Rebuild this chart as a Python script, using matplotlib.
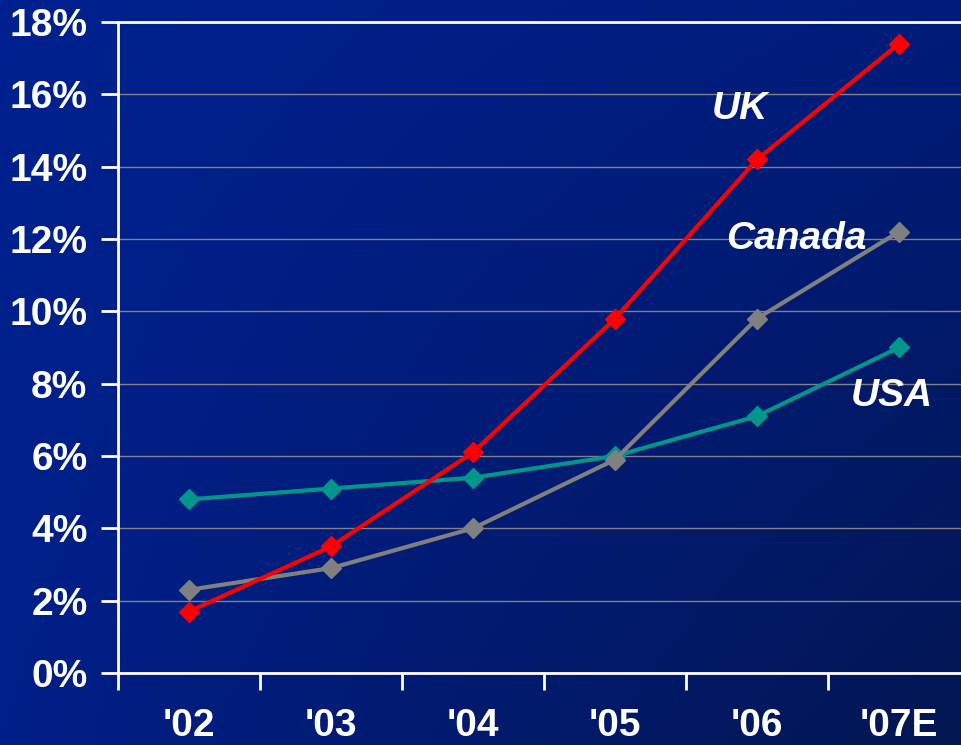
import matplotlib.pyplot as plt
import numpy as np

# penetration by year, in percent
years = ["'02", "'03", "'04", "'05", "'06", "'07E"]
uk = [1.7, 3.5, 6.1, 9.8, 14.2, 17.4]
canada = [2.3, 2.9, 4.0, 5.9, 9.8, 12.2]
usa = [4.8, 5.1, 5.4, 6.0, 7.1, 9.0]
yticks = [0, 2, 4, 6, 8, 10, 12, 14, 16, 18]

plt.rcParams['font.family'] = ['Liberation Sans', 'DejaVu Sans']
plt.rcParams['font.weight'] = 'bold'

fig = plt.figure(figsize=(9.61, 7.45), dpi=100)

# dark blue gradient behind everything
bg = fig.add_axes([0, 0, 1, 1], zorder=0)
tl = np.array([0x00, 0x21, 0x90]) / 255
tr = np.array([0x00, 0x1c, 0x7a]) / 255
bl = np.array([0x00, 0x1f, 0x88]) / 255
br = np.array([0x03, 0x16, 0x52]) / 255
u = np.linspace(0, 1, 200)[None, :, None]
v = np.linspace(0, 1, 200)[:, None, None]
grad = (1 - v) * ((1 - u) * tl + u * tr) + v * ((1 - u) * bl + u * br)
bg.imshow(grad, aspect='auto', extent=[0, 1, 0, 1])
bg.axis('off')

ax = fig.add_axes([118 / 961, 1 - 673 / 745, 852 / 961, 651 / 745], zorder=1)
ax.patch.set_alpha(0)

x = np.arange(len(years))
ax.plot(x, usa, color='#00968a', lw=3, marker='D', ms=10, zorder=3)
ax.plot(x, canada, color='#808080', lw=3, marker='D', ms=10, zorder=3)
ax.plot(x, uk, color='#ff0000', lw=3, marker='D', ms=10, zorder=4)

ax.set_xlim(-0.5, 5.5)
ax.set_ylim(0, 18)
ax.set_yticks(yticks)
ax.set_yticklabels([f'{t}%' for t in yticks])
ax.set_xticks(np.arange(-0.5, 5.5, 1))
ax.set_xticklabels([])
ax.set_xticks(x, minor=True)
ax.set_xticklabels(years, minor=True)

ax.grid(axis='y', color='#80808f', lw=1)
ax.set_axisbelow(True)
ax.spines['right'].set_visible(False)
for side in ['left', 'bottom', 'top']:
    ax.spines[side].set_color('white')
    ax.spines[side].set_linewidth(2)

ax.tick_params(axis='y', colors='white', labelsize=28, length=12, width=2, pad=10)
ax.tick_params(axis='x', which='major', colors='white', length=12, width=2)
ax.tick_params(axis='x', which='minor', colors='white', labelsize=28, length=0, pad=25)

lbl = dict(color='white', fontsize=28, fontweight='bold', fontstyle='italic',
           ha='center', va='center')
ax.text(3.88, 15.6, 'UK', **lbl)
ax.text(4.28, 12.0, 'Canada', **lbl)
ax.text(4.95, 7.65, 'USA', **lbl)

fig.savefig('out.png', dpi=100)
